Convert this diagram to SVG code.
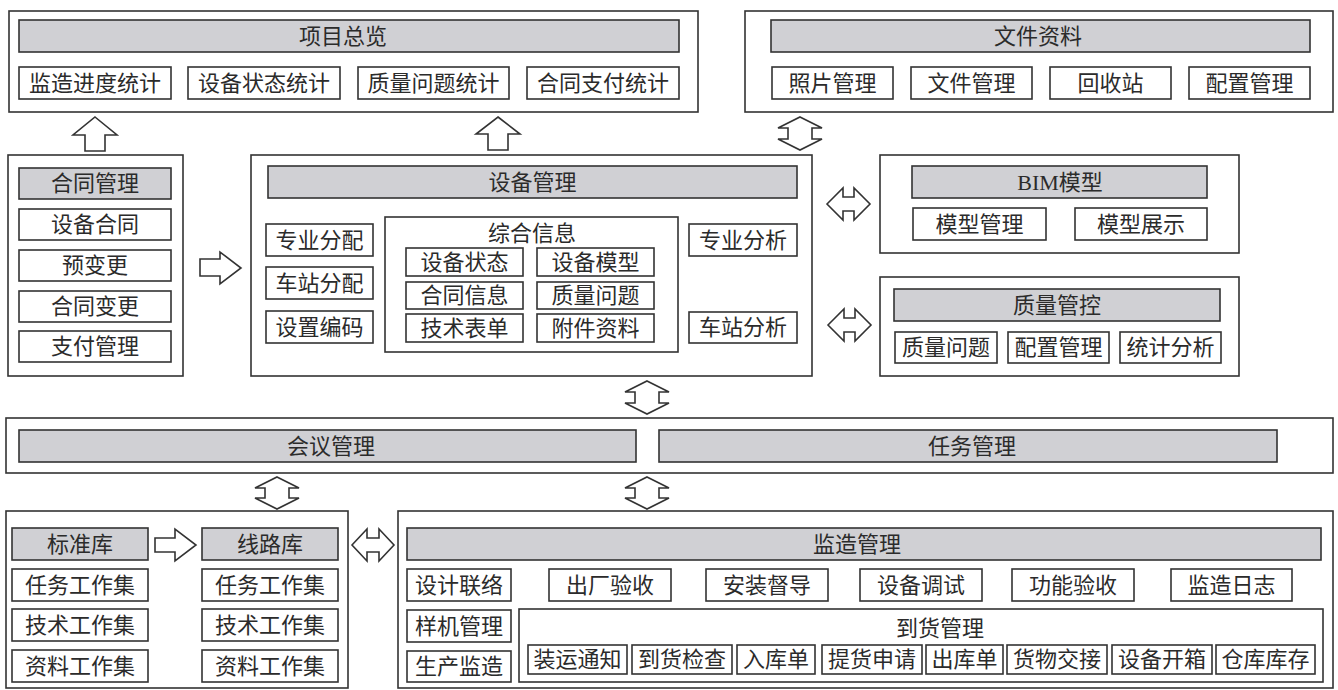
<svg xmlns="http://www.w3.org/2000/svg" width="1338" height="690" viewBox="0 0 1338 690">
<style>
rect{fill:#fff;stroke:#333;stroke-width:1.6}
rect.h{fill:#d0d0d4}
text{font-family:"Liberation Serif","Noto Sans CJK SC",serif;font-size:22px;fill:#2b2b2b;text-anchor:middle;dominant-baseline:central}
.ar path{fill:#fff;stroke:#333;stroke-width:1.6;stroke-linejoin:miter}
</style>
<rect x="0" y="0" width="1338" height="690" style="fill:#fff;stroke:none"/>
<g id="overview">
<rect x="9" y="11" width="689" height="101"/>
<rect class="h" x="19" y="20" width="660" height="32"/><text x="343" y="36">项目总览</text>
<rect x="19" y="67" width="152" height="32"/><text x="95" y="83">监造进度统计</text>
<rect x="188" y="67" width="152" height="32"/><text x="264" y="83">设备状态统计</text>
<rect x="358" y="67" width="151" height="32"/><text x="433.5" y="83">质量问题统计</text>
<rect x="527" y="67" width="152" height="32"/><text x="603" y="83">合同支付统计</text>
</g>
<g id="files">
<rect x="745" y="11" width="588" height="101"/>
<rect class="h" x="771" y="20" width="539" height="32"/><text x="1038" y="36">文件资料</text>
<rect x="772" y="67" width="121" height="32"/><text x="832.5" y="83">照片管理</text>
<rect x="911" y="67" width="121" height="32"/><text x="971.5" y="83">文件管理</text>
<rect x="1050" y="67" width="121" height="32"/><text x="1110.5" y="83">回收站</text>
<rect x="1189" y="67" width="121" height="32"/><text x="1249.5" y="83">配置管理</text>
</g>
<g id="contract">
<rect x="8" y="155" width="175" height="221"/>
<rect class="h" x="19" y="168" width="152" height="31"/><text x="95" y="183.5">合同管理</text>
<rect x="19" y="209" width="152" height="31"/><text x="95" y="224.5">设备合同</text>
<rect x="19" y="250" width="152" height="31"/><text x="95" y="265.5">预变更</text>
<rect x="19" y="291" width="152" height="31"/><text x="95" y="306.5">合同变更</text>
<rect x="19" y="331" width="152" height="31"/><text x="95" y="346.5">支付管理</text>
</g>
<g id="equipment">
<rect x="251" y="155" width="561" height="221"/>
<rect class="h" x="268" y="166" width="529" height="32"/><text x="532.5" y="182">设备管理</text>
<rect x="266" y="224" width="107" height="32"/><text x="319.5" y="240">专业分配</text>
<rect x="266" y="267" width="107" height="32"/><text x="319.5" y="283">车站分配</text>
<rect x="266" y="311" width="107" height="32"/><text x="319.5" y="327">设置编码</text>
<rect x="385" y="217" width="293" height="135"/><text x="532" y="233">综合信息</text>
<rect x="406" y="248" width="117" height="28"/><text x="464.5" y="262">设备状态</text>
<rect x="537" y="248" width="117" height="28"/><text x="595.5" y="262">设备模型</text>
<rect x="406" y="282" width="117" height="27"/><text x="464.5" y="295.5">合同信息</text>
<rect x="537" y="282" width="117" height="27"/><text x="595.5" y="295.5">质量问题</text>
<rect x="406" y="314" width="117" height="28"/><text x="464.5" y="328">技术表单</text>
<rect x="537" y="314" width="117" height="28"/><text x="595.5" y="328">附件资料</text>
<rect x="689" y="224" width="108" height="32"/><text x="743" y="240">专业分析</text>
<rect x="689" y="312" width="108" height="31"/><text x="743" y="327.5">车站分析</text>
</g>
<g id="bim">
<rect x="880" y="155" width="359" height="98"/>
<rect class="h" x="912" y="166" width="295" height="32"/><text x="1060" y="182">BIM模型</text>
<rect x="913" y="208" width="133" height="32"/><text x="979.5" y="224">模型管理</text>
<rect x="1075" y="208" width="132" height="32"/><text x="1141" y="224">模型展示</text>
</g>
<g id="quality">
<rect x="880" y="277" width="359" height="99"/>
<rect class="h" x="894" y="289" width="326" height="32"/><text x="1057" y="305">质量管控</text>
<rect x="895" y="332" width="102" height="31"/><text x="946" y="347.5">质量问题</text>
<rect x="1008" y="332" width="101" height="31"/><text x="1058.5" y="347.5">配置管理</text>
<rect x="1120" y="332" width="101" height="31"/><text x="1170.5" y="347.5">统计分析</text>
</g>
<g id="meeting-task">
<rect x="6" y="418" width="1327" height="55"/>
<rect class="h" x="19" y="430" width="617" height="32"/><text x="331" y="446">会议管理</text>
<rect class="h" x="659" y="430" width="618" height="32"/><text x="972" y="446">任务管理</text>
</g>
<g id="library">
<rect x="6" y="511" width="342" height="177"/>
<rect class="h" x="12" y="528" width="136" height="32"/><text x="80" y="544">标准库</text>
<rect class="h" x="202" y="528" width="136" height="32"/><text x="270" y="544">线路库</text>
<rect x="12" y="569" width="136" height="32"/><text x="80" y="585">任务工作集</text>
<rect x="202" y="569" width="136" height="32"/><text x="270" y="585">任务工作集</text>
<rect x="12" y="609" width="136" height="32"/><text x="80" y="625">技术工作集</text>
<rect x="202" y="609" width="136" height="32"/><text x="270" y="625">技术工作集</text>
<rect x="12" y="650" width="136" height="32"/><text x="80" y="666">资料工作集</text>
<rect x="202" y="650" width="136" height="32"/><text x="270" y="666">资料工作集</text>
</g>
<g id="supervision">
<rect x="398" y="511" width="935" height="177"/>
<rect class="h" x="407" y="528" width="914" height="32"/><text x="857" y="544">监造管理</text>
<rect x="407" y="569" width="104" height="32"/><text x="459" y="585">设计联络</text>
<rect x="549" y="569" width="122" height="32"/><text x="610" y="585">出厂验收</text>
<rect x="706" y="569" width="122" height="32"/><text x="767" y="585">安装督导</text>
<rect x="860" y="569" width="122" height="32"/><text x="921" y="585">设备调试</text>
<rect x="1012" y="569" width="122" height="32"/><text x="1073" y="585">功能验收</text>
<rect x="1171" y="569" width="121" height="32"/><text x="1231.5" y="585">监造日志</text>
<rect x="407" y="610" width="104" height="32"/><text x="459" y="626">样机管理</text>
<rect x="407" y="651" width="104" height="31"/><text x="459" y="666.5">生产监造</text>
<rect x="519" y="609" width="804" height="73"/><text x="940" y="628">到货管理</text>
<rect x="528" y="645" width="99" height="29"/><text x="577.5" y="659.5">装运通知</text>
<rect x="632" y="645" width="100" height="29"/><text x="682" y="659.5">到货检查</text>
<rect x="737" y="645" width="78" height="29"/><text x="776" y="659.5">入库单</text>
<rect x="822" y="645" width="100" height="29"/><text x="872" y="659.5">提货申请</text>
<rect x="926" y="645" width="77" height="29"/><text x="964.5" y="659.5">出库单</text>
<rect x="1007" y="645" width="100" height="29"/><text x="1057" y="659.5">货物交接</text>
<rect x="1112" y="645" width="100" height="29"/><text x="1162" y="659.5">设备开箱</text>
<rect x="1216" y="645" width="99" height="29"/><text x="1265.5" y="659.5">仓库库存</text>
</g>
<g id="connectors" class="ar">
<path d="M95,117 L117,135 L105,135 L105,151 L85,151 L85,135 L73,135 Z"/>
<path d="M498,117 L520,134 L508,134 L508,150 L488,150 L488,134 L476,134 Z"/>
<path d="M800,117 L822,128 L812,128 L812,139 L822,139 L800,150 L778,139 L788,139 L788,128 L778,128 Z"/>
<path d="M200,259 L220,259 L220,252 L241,268 L220,284 L220,276 L200,276 Z"/>
<path d="M827,204 L843,188 L843,197 L854,197 L854,188 L870,204 L854,220 L854,211 L843,211 L843,220 Z"/>
<path d="M828,325 L844,309 L844,318 L855,318 L855,309 L871,325 L855,341 L855,332 L844,332 L844,341 Z"/>
<path d="M647,381 L669,392 L659,392 L659,403 L669,403 L647,414 L625,403 L635,403 L635,392 L625,392 Z"/>
<path d="M277,477 L299,488 L289,488 L289,498 L299,498 L277,509 L255,498 L265,498 L265,488 L255,488 Z"/>
<path d="M647,477 L669,488 L659,488 L659,498 L669,498 L647,509 L625,498 L635,498 L635,488 L625,488 Z"/>
<path d="M155,538 L175,538 L175,529 L196,545 L175,561 L175,552 L155,552 Z"/>
<path d="M352,545 L367,529 L367,538 L379,538 L379,529 L394,545 L379,561 L379,552 L367,552 L367,561 Z"/>
</g>
</svg>
